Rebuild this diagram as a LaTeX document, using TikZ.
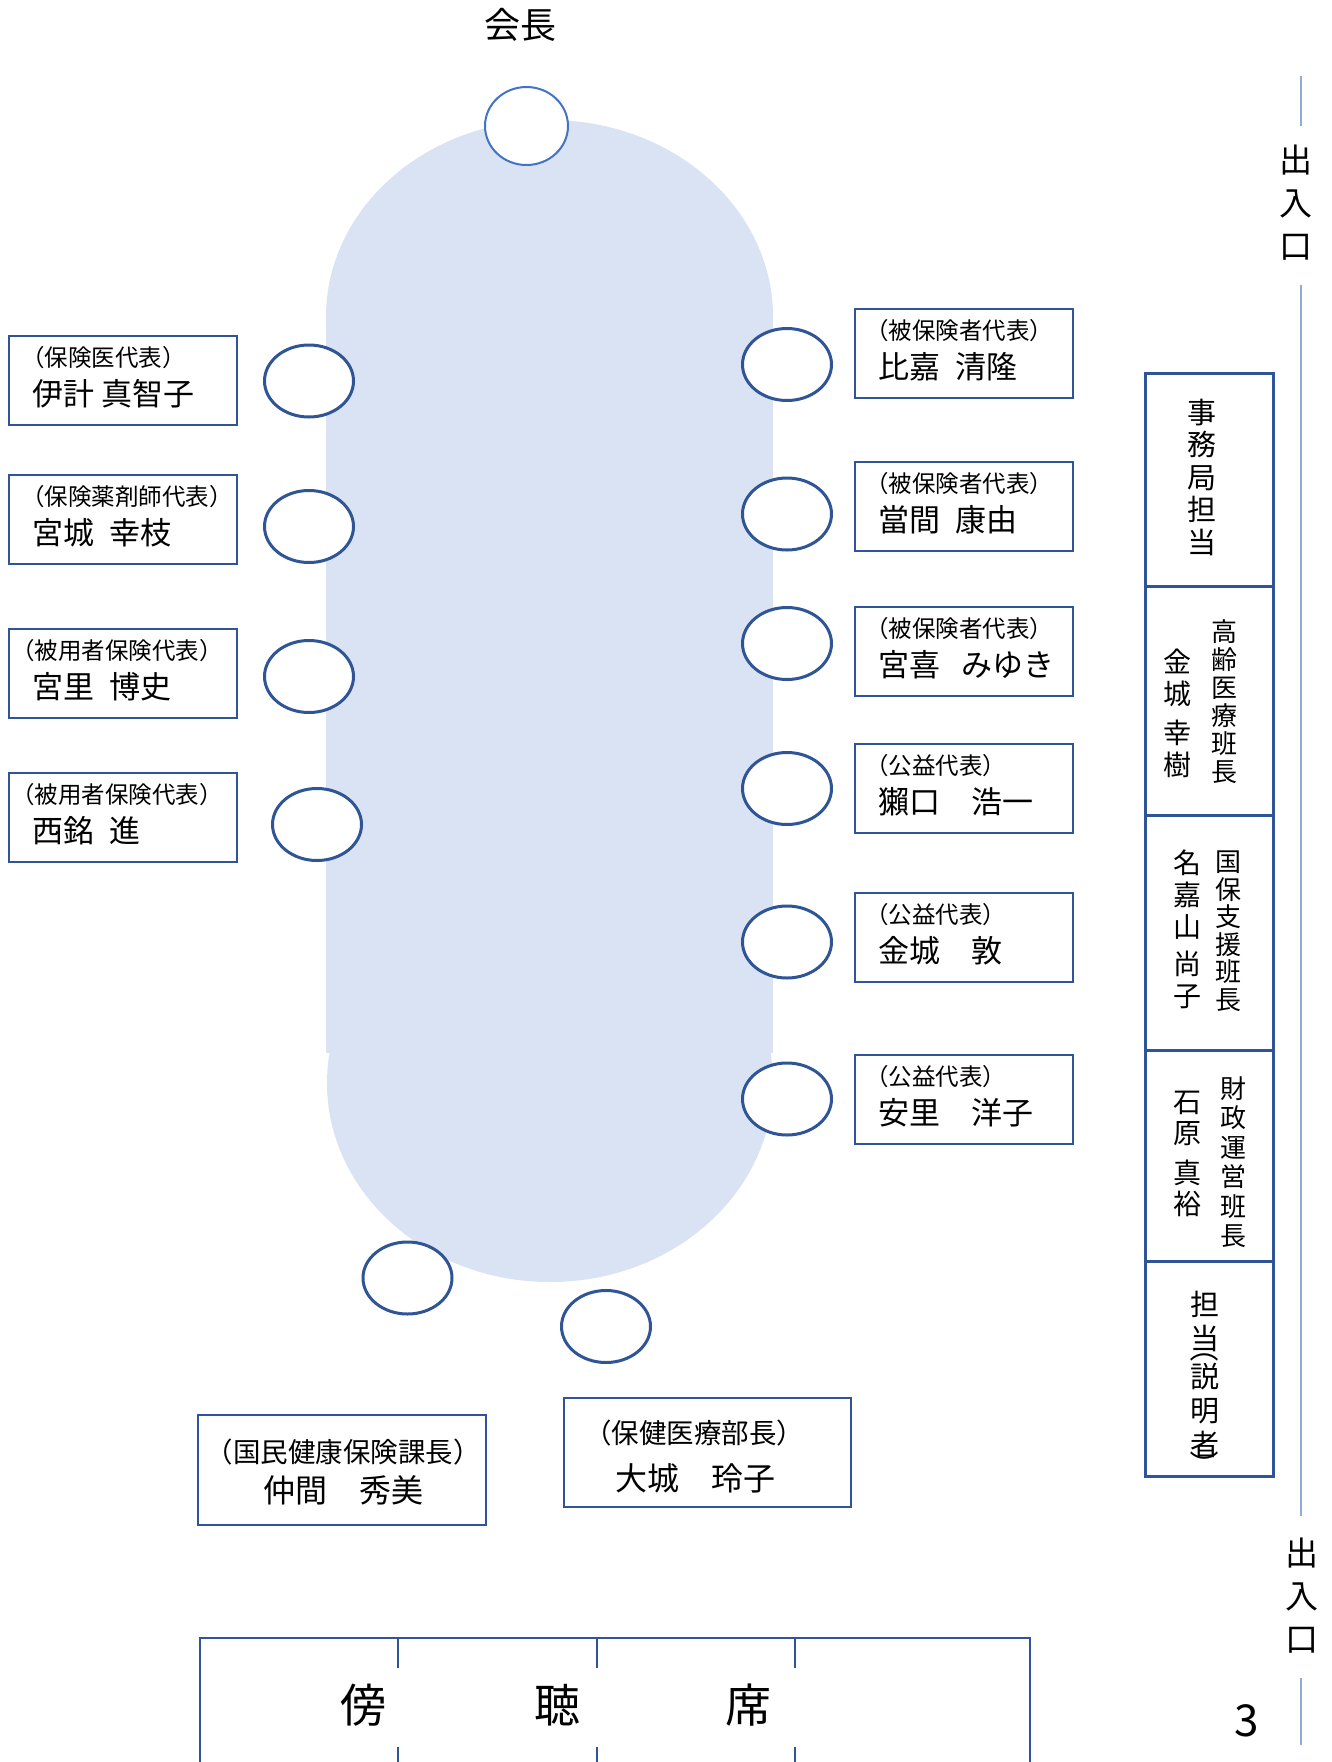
\documentclass[tikz,border=0pt]{standalone}
\usepackage{fontspec}
\setmainfont{Noto Sans CJK JP}
\usetikzlibrary{shapes.geometric,calc}
\definecolor{boxblue}{HTML}{2F5597}
\definecolor{chairblue}{HTML}{4472C4}
\definecolor{tablefill}{HTML}{DAE3F3}
\definecolor{wallblue}{HTML}{8FAADC}
\newcommand\seatbox[7]{%
  \node[mbox, minimum width=#4, minimum height=89, anchor=north west] (#1) at (#2,#3) {};
  \node[lbl, anchor=west] (#1-l) at ($(#1.north west)+(#5,23)$) {#6};
  \node[nm, anchor=west] (#1-n) at ($(#1.north west)+(24,59)$) {#7};
}
\begin{document}
\lineskiplimit=-100pt
\begin{tikzpicture}[x=1pt,y=-1pt,
  mbox/.style={draw=boxblue, line width=2, inner sep=0},
  colbox/.style={draw=boxblue, line width=2.5, inner sep=0},
  seat/.style={ellipse, draw=boxblue, line width=3, fill=white, minimum width=89, minimum height=72, inner sep=0},
  chairseat/.style={ellipse, draw=chairblue, line width=2, fill=white, minimum width=83, minimum height=78, inner sep=0},
  lbl/.style={inner sep=0, font=\fontsize{23.5}{27}\selectfont, text height=20, text depth=3.5},
  nm/.style={inner sep=0, font=\fontsize{31}{36}\selectfont, text height=27, text depth=4},
  blbl/.style={inner sep=0, font=\fontsize{27.5}{31}\selectfont, text height=24, text depth=3.5},
  bnm/.style={inner sep=0, font=\fontsize{32}{36}\selectfont, text height=28, text depth=4},
  vt/.style={inner sep=0, align=center},
  vparen/.style={inner sep=0, rotate=-90, font=\fontsize{29}{34}\selectfont},
  wall/.style={draw=wallblue, line width=2},
  frame/.style={draw=boxblue, line width=2}]
\clip (0,0) rectangle (1332,1762);
\fill[white] (0,0) rectangle (1332,1762);

% table
\fill[tablefill] (326,317) rectangle (773,1053);
\fill[tablefill] (549.5,317) ellipse [x radius=223.5, y radius=197];
\fill[tablefill] (550,1083) ellipse [x radius=223, y radius=199];

% chair
\node[chairseat] (chair) at (526.5,126) {};
\node[inner sep=0, font=\fontsize{36}{40}\selectfont] (kaicho) at (520,25) {会長};

% seats left
\node[seat] (sl1) at (309,381) {};
\node[seat] (sl2) at (309,526.5) {};
\node[seat] (sl3) at (309,676.5) {};
\node[seat] (sl4) at (317,824.5) {};
% seats right
\node[seat] (sr1) at (787,364.5) {};
\node[seat] (sr2) at (787,514) {};
\node[seat] (sr3) at (787,643.5) {};
\node[seat] (sr4) at (787,788.5) {};
\node[seat] (sr5) at (787,942) {};
\node[seat] (sr6) at (787,1099) {};
% seats bottom
\node[seat] (sb1) at (407.5,1278) {};
\node[seat] (sb2) at (606,1326.5) {};

% left boxes
\seatbox{bl1}{8}{335}{228}{13}{（保険医代表）}{伊計 真智子}
\seatbox{bl2}{8}{474}{228}{13}{（保険薬剤師代表）}{宮城\enspace 幸枝}
\seatbox{bl3}{8}{628}{228}{3}{（被用者保険代表）}{宮里\enspace 博史}
\seatbox{bl4}{8}{772}{228}{3}{（被用者保険代表）}{西銘\enspace 進}
% right boxes
\seatbox{br1}{854}{308}{218}{11}{（被保険者代表）}{比嘉\enspace 清隆}
\seatbox{br2}{854}{461}{218}{11}{（被保険者代表）}{當間\enspace 康由}
\seatbox{br3}{854}{606}{218}{11}{（被保険者代表）}{宮喜\hspace{0.7em}みゆき}
\seatbox{br4}{854}{743}{218}{11}{（公益代表）}{獺口　浩一}
\seatbox{br5}{854}{892}{218}{11}{（公益代表）}{金城　敦}
\seatbox{br6}{854}{1054}{218}{11}{（公益代表）}{安里　洋子}

% bottom boxes
\node[mbox, minimum width=288, minimum height=110, anchor=north west] (kacho) at (197,1414) {};
\node[blbl] (kacho-l) at (343,1452) {（国民健康保険課長）};
\node[bnm] (kacho-n) at (343,1490) {仲間　秀美};
\node[mbox, minimum width=287, minimum height=109, anchor=north west] (bucho) at (563,1397) {};
\node[blbl] (bucho-l) at (694,1433) {（保健医療部長）};
\node[bnm] (bucho-n) at (695,1478) {大城　玲子};

% right column
\node[colbox, minimum width=128, minimum height=213, anchor=north west] (c1) at (1144,372) {};
\node[colbox, minimum width=128, minimum height=229, anchor=north west] (c2) at (1144,585) {};
\node[colbox, minimum width=128, minimum height=235, anchor=north west] (c3) at (1144,814) {};
\node[colbox, minimum width=128, minimum height=211, anchor=north west] (c4) at (1144,1049) {};
\node[colbox, minimum width=128, minimum height=215, anchor=north west] (c5) at (1144,1260) {};

\node[vt, font=\fontsize{29}{32.5}\selectfont] (t-jimu) at (1202,477) {事\\務\\局\\担\\当};
\node[vt, font=\fontsize{26}{28}\selectfont] (t-kourei) at (1224,702) {高\\齢\\医\\療\\班\\長};
\node[vt, font=\fontsize{28}{32}\selectfont] (t-kaneshiro) at (1177.5,713) {金\\城\\[7pt]幸\\樹};
\node[vt, font=\fontsize{26}{27.5}\selectfont] (t-kokuho) at (1228,931) {国\\保\\支\\援\\班\\長};
\node[vt, font=\fontsize{28}{32}\selectfont] (t-nakayama) at (1187.5,929) {名\\嘉\\山\\[5pt]尚\\子};
\node[vt, font=\fontsize{26}{29.5}\selectfont] (t-zaisei) at (1233,1162) {財\\政\\運\\営\\班\\長};
\node[vt, font=\fontsize{28}{30.5}\selectfont] (t-ishihara) at (1187.5,1154) {石\\原\\[10pt]真\\裕};
\node[vt, font=\fontsize{29}{34}\selectfont] (t-tanto) at (1205,1374) {担\\当\\[4pt]説\\明\\者};
\node[vparen] (t-tanto-po) at (1205,1348) {（};
\node[vparen] (t-tanto-pc) at (1205,1465) {）};

% wall and doors
\coordinate (w1) at (1301,76);
\coordinate (w2) at (1301,126);
\coordinate (w3) at (1301,285);
\coordinate (w4) at (1301,1516);
\coordinate (w5) at (1301,1678);
\coordinate (w6) at (1301,1745);
\draw[wall] (w1) -- (w2);
\draw[wall] (w3) -- (w4);
\draw[wall] (w5) -- (w6);
\node[vt, font=\fontsize{33}{43}\selectfont] (door1) at (1296,203) {出\\入\\口};
\node[vt, font=\fontsize{33}{43}\selectfont] (door2) at (1302,1596) {出\\入\\口};

% public gallery
\draw[frame] (200,1780) -- (200,1638) -- (1030,1638) -- (1030,1780);
\draw[frame] (398,1638) -- (398,1668);
\draw[frame] (597,1638) -- (597,1668);
\draw[frame] (795,1638) -- (795,1668);
\draw[frame] (398,1747) -- (398,1780);
\draw[frame] (597,1747) -- (597,1780);
\draw[frame] (795,1747) -- (795,1780);
\node[inner sep=0, font=\fontsize{46}{50}\selectfont] (boucho) at (555.5,1705) {傍\hspace{148pt}聴\hspace{145pt}席};

\node[inner sep=0, font=\fontsize{44}{48}\selectfont] (pageno) at (1247,1721) {3};
\end{tikzpicture}
\end{document}
